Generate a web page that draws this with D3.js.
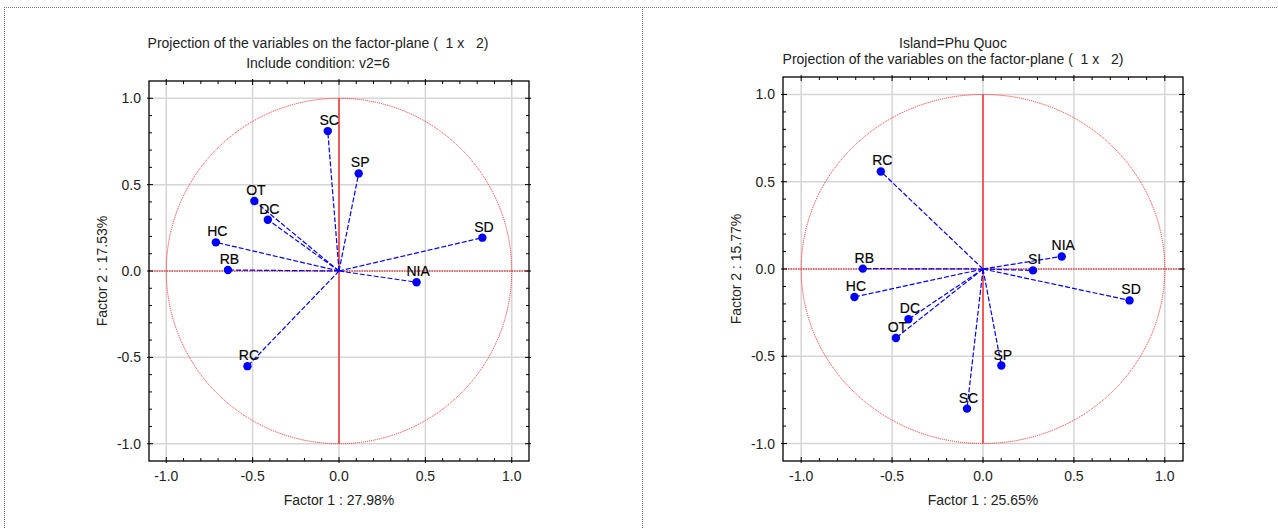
<!DOCTYPE html>
<html>
<head>
<meta charset="utf-8">
<script src="https://cdn.jsdelivr.net/npm/d3@7"></script>
<style>
  body { margin: 0; background: #fff; }
  svg { display: block; font-family: "Liberation Sans", Arial, sans-serif; }
  text { white-space: pre; }
</style>
</head>
<body>
<svg id="chart" width="1278" height="528"></svg>
<script>
// left panel: Include condition v2=6
const leftVars = ["SC", "SP", "OT", "DC", "HC", "RB", "SD", "NIA", "RC"];
const leftF1 = [-0.065, 0.114, -0.49, -0.412, -0.713, -0.643, 0.83, 0.449, -0.53];
const leftF2 = [0.81, 0.565, 0.405, 0.297, 0.166, 0.006, 0.193, -0.065, -0.551];

// right panel: Island=Phu Quoc
const rightVars = ["RC", "RB", "HC", "NIA", "SI", "SD", "DC", "OT", "SP", "SC"];
const rightF1 = [-0.562, -0.661, -0.707, 0.433, 0.275, 0.806, -0.41, -0.479, 0.101, -0.088];
const rightF2 = [0.559, 0.002, -0.16, 0.072, -0.008, -0.18, -0.288, -0.395, -0.553, -0.80];

const majorTicks = [-1.0, -0.5, 0.0, 0.5, 1.0];
const minorTicks = d3.range(-11, 12).map(d => d / 10);

const svg = d3.select("#chart");

// outer dotted frames
svg.append("g")
    .attr("stroke", "#777")
    .attr("stroke-dasharray", "1,1")
    .selectAll("line")
    .data([[4, 7.5, 1278, 7.5], [4.5, 7, 4.5, 528], [642.5, 7, 642.5, 528]])
    .enter().append("line")
    .attr("x1", d => d[0]).attr("y1", d => d[1])
    .attr("x2", d => d[2]).attr("y2", d => d[3]);

function drawPanel(p){
    const data = p.vars.map((v, i) => ({name: v, x: p.f1[i], y: p.f2[i]}));
    const x = d3.scaleLinear().domain([-1.1, 1.1]).range(p.xr);
    const y = d3.scaleLinear().domain([-1.1, 1.1]).range(p.yr);
    const g = svg.append("g");

    // titles
    g.selectAll("text.title").data(p.titles).enter().append("text")
        .attr("class", "title")
        .attr("x", p.titleX)
        .attr("y", (d, i) => p.titleY[i])
        .attr("text-anchor", "middle")
        .style("font-size", "14px")
        .style("fill", "#222")
        .text(d => d);

    // grid
    g.append("g").selectAll("line").data(majorTicks).enter().append("line")
        .attr("x1", d => x(d)).attr("x2", d => x(d))
        .attr("y1", y(1.1)).attr("y2", y(-1.1))
        .attr("stroke", "#d6d6d6").attr("stroke-width", 1.5);
    g.append("g").selectAll("line").data(majorTicks).enter().append("line")
        .attr("y1", d => y(d)).attr("y2", d => y(d))
        .attr("x1", x(-1.1)).attr("x2", x(1.1))
        .attr("stroke", "#d6d6d6").attr("stroke-width", 1.5);

    // unit circle and reference lines
    g.append("ellipse")
        .attr("cx", x(0)).attr("cy", y(0))
        .attr("rx", x(1) - x(0)).attr("ry", y(0) - y(1))
        .attr("fill", "none").attr("stroke", "#ff2020")
        .attr("stroke-width", 1).attr("stroke-dasharray", "1,1");
    g.append("line")
        .attr("x1", x(-1.1)).attr("x2", x(1.1))
        .attr("y1", y(0)).attr("y2", y(0))
        .attr("stroke", "#e00000").attr("stroke-width", 1.2)
        .attr("stroke-dasharray", "1.5,1");
    g.append("line")
        .attr("x1", x(0)).attr("x2", x(0))
        .attr("y1", y(1)).attr("y2", y(-1))
        .attr("stroke", "#ff0000").attr("stroke-width", 1.2);

    // vectors
    g.append("g").selectAll("line").data(data).enter().append("line")
        .attr("x1", x(0)).attr("y1", y(0))
        .attr("x2", d => x(d.x)).attr("y2", d => y(d.y))
        .attr("stroke", "#0000ff").attr("stroke-width", 1.2)
        .attr("stroke-dasharray", "5,2");
    g.append("g").selectAll("circle").data(data).enter().append("circle")
        .attr("cx", d => x(d.x)).attr("cy", d => y(d.y))
        .attr("r", 4.2).attr("fill", "#0000ff");
    g.append("g").selectAll("text").data(data).enter().append("text")
        .attr("x", d => x(d.x) + 1.5).attr("y", d => y(d.y) - 6)
        .attr("text-anchor", "middle")
        .style("font-size", "14px")
        .style("fill", "#000")
        .style("stroke", "#000").style("stroke-width", 0.15)
        .text(d => d.name);

    // frame
    g.append("rect")
        .attr("x", x(-1.1)).attr("y", y(1.1))
        .attr("width", x(1.1) - x(-1.1)).attr("height", y(-1.1) - y(1.1))
        .attr("fill", "none").attr("stroke", "#000").attr("stroke-width", 1.3);

    // inward ticks on all sides
    const tk = g.append("g").attr("stroke", "#000").attr("stroke-width", 1);
    minorTicks.filter(d => Math.abs(d) <= 1.05).forEach(d => {
        const major = majorTicks.some(m => Math.abs(m - d) < 1e-9);
        const len = major ? 4 : 3, out = major ? 2 : 0;
        tk.append("line").attr("x1", x(d)).attr("x2", x(d)).attr("y1", y(-1.1) + out).attr("y2", y(-1.1) - len);
        tk.append("line").attr("x1", x(d)).attr("x2", x(d)).attr("y1", y(1.1) - out).attr("y2", y(1.1) + len);
        tk.append("line").attr("y1", y(d)).attr("y2", y(d)).attr("x1", x(-1.1) - out).attr("x2", x(-1.1) + len);
        tk.append("line").attr("y1", y(d)).attr("y2", y(d)).attr("x1", x(1.1) + out).attr("x2", x(1.1) - len);
    });

    // tick labels
    g.append("g").selectAll("text").data(majorTicks).enter().append("text")
        .attr("x", d => x(d)).attr("y", y(-1.1) + 20)
        .attr("text-anchor", "middle")
        .style("font-size", "14px").style("fill", "#222")
        .text(d => d3.format(".1f")(d).replace("−", "-"));
    g.append("g").selectAll("text").data(majorTicks).enter().append("text")
        .attr("x", x(-1.1) - 8).attr("y", d => y(d) + 5)
        .attr("text-anchor", "end")
        .style("font-size", "14px").style("fill", "#222")
        .text(d => d3.format(".1f")(d).replace("−", "-"));

    // axis titles
    g.append("text")
        .attr("x", x(0)).attr("y", y(-1.1) + 44)
        .attr("text-anchor", "middle")
        .style("font-size", "14px").style("fill", "#222")
        .text(p.xLabel);
    g.append("text")
        .attr("transform", `translate(${x(-1.1) - 42},${y(0)}) rotate(-90)`)
        .attr("text-anchor", "middle")
        .style("font-size", "14px").style("fill", "#222")
        .text(p.yLabel);
}

drawPanel({
    vars: leftVars, f1: leftF1, f2: leftF2,
    xr: [149, 529], yr: [461, 81],
    titles: ["Projection of the variables on the factor-plane (  1 x   2)", "Include condition: v2=6"],
    titleX: 318, titleY: [48, 68],
    xLabel: "Factor 1 : 27.98%", yLabel: "Factor 2 : 17.53%"
});

drawPanel({
    vars: rightVars, f1: rightF1, f2: rightF2,
    xr: [783, 1183], yr: [461, 77],
    titles: ["Island=Phu Quoc", "Projection of the variables on the factor-plane (  1 x   2)"],
    titleX: 953, titleY: [48, 64],
    xLabel: "Factor 1 : 25.65%", yLabel: "Factor 2 : 15.77%"
});
</script>
</body>
</html>
